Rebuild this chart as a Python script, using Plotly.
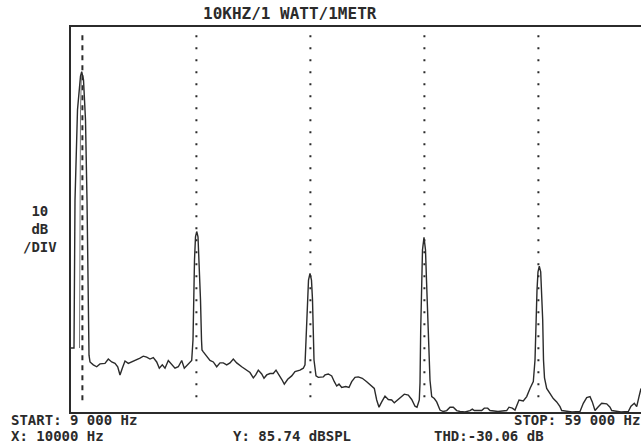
import plotly.graph_objects as go

# spectrum trace (Hz, dB SPL)
freq_hz = [
    9000, 9263, 9351, 9570, 9833, 9939, 10097, 10272, 10404, 10535, 10579, 10667,
    10956, 11254, 11544, 11982, 12272, 12570, 12860, 13097, 13298, 13500, 13737, 14026,
    14325, 14614, 15053, 15342, 15640, 15930, 16219, 16518, 16746, 17009, 17246, 17535,
    17833, 18123, 18412, 18711, 18939, 19237, 19439, 19588,
    19702, 19746, 19833, 19921, 20026, 20140, 20228, 20360, 20447, 20491,
    20605, 20904, 21193, 21482, 21781, 22070, 22360, 22658, 22947, 23237, 23535, 23974,
    24412, 24702, 24991, 25202, 25430, 25728, 25930, 26167, 26456, 26746, 26983, 27184,
    27482, 27711, 28009, 28360, 28649, 29088, 29378, 29526,
    29640, 29746, 29833, 29965, 30096, 30184, 30254, 30316, 30491,
    30693, 31132, 31281, 31570, 31868, 32097, 32307, 32509, 32746, 33097, 33386, 33623,
    33912, 34202, 34553, 34939, 35316, 35605, 35816, 36018, 36255, 36544, 36833, 37132,
    37360, 37658, 37947, 38237, 38588, 38886, 39175, 39351, 39553,
    39614, 39675, 39746, 39833, 39965, 40096, 40184, 40316, 40491,
    40640, 40868, 41079, 41368, 41658, 41956, 42246, 42535, 42833, 43123, 43561, 44000,
    44202, 44377, 45026, 45254, 45553, 45754, 46456, 47219, 47421, 47711, 47947, 48096,
    48298, 48675, 48974, 49263, 49553,
    49702, 49789, 49877, 49965, 50079, 50202, 50289, 50377, 50447, 50535,
    50728, 51018, 51307, 51605, 51895, 52044, 52947, 53649, 53939, 54237, 54526, 54728,
    54965, 55254, 55553, 55991, 56281, 56430, 57244, 57886, 58123, 58412, 58623, 58825,
    59000,
]
level_db = [
    28.3, 28.3, 59.0, 77.8, 84.8, 85.7, 84.0, 75.7, 59.0, 38.3, 26.8, 25.4,
    24.8, 24.4, 25.0, 25.1, 26.0, 25.4, 25.1, 24.4, 22.7, 24.1, 25.6, 25.1,
    25.4, 25.8, 26.2, 26.6, 26.4, 26.0, 26.3, 25.4, 24.1, 24.8, 24.1, 25.7,
    24.8, 24.1, 24.4, 25.7, 24.1, 24.8, 25.4, 25.7,
    30.0, 38.3, 46.6, 51.4, 52.5, 51.4, 46.6, 38.3, 30.0, 27.9,
    27.5, 26.5, 25.7, 25.4, 24.4, 25.2, 25.2, 24.8, 25.2, 26.0, 25.2, 24.4,
    23.6, 23.2, 22.1, 22.7, 23.7, 22.9, 22.0, 22.7, 23.0, 23.0, 23.7, 23.0,
    21.8, 20.8, 21.8, 22.5, 23.4, 23.7, 24.1, 24.8,
    32.0, 38.3, 42.4, 43.8, 42.4, 38.3, 32.0, 25.8, 22.5,
    22.2, 22.3, 22.7, 22.9, 22.5, 21.3, 20.4, 20.8, 20.1, 20.3, 20.1, 21.3,
    22.2, 22.3, 22.0, 21.3, 20.6, 19.9, 17.5, 16.0, 17.1, 18.3, 17.6, 17.5,
    16.9, 17.5, 18.2, 18.7, 18.5, 17.6, 16.2, 16.0, 17.5,
    21.0, 32.0, 42.4, 48.7, 51.3, 48.7, 42.4, 32.0, 21.6,
    18.2, 17.8, 17.1, 15.4, 15.1, 15.3, 16.0, 16.0, 15.3, 15.1, 15.0, 15.3,
    15.6, 15.3, 15.3, 15.8, 15.8, 15.3, 15.1, 15.3, 16.0, 15.8, 15.4, 16.4,
    17.5, 17.3, 18.2, 19.9, 21.3,
    25.8, 34.1, 40.3, 44.1, 45.3, 44.1, 40.3, 34.1, 25.8, 22.1,
    19.9, 18.9, 17.8, 17.1, 16.1, 15.3, 15.0, 15.1, 16.8, 18.0, 18.2, 17.1,
    15.3, 16.1, 16.8, 16.7, 16.0, 15.3, 15.0, 15.1, 16.2, 16.8, 16.1, 18.2,
    19.9,
]

# second outline on the left flank of the fundamental
echo_hz = [9746, 9772, 9833, 9904]
echo_db = [28.3, 59.0, 77.8, 84.4]

harmonics_hz = [10000, 20000, 30000, 40000, 50000]
marker_db = [93.3, 16.4]

start_hz = 9000
stop_hz = 59000
db_top = 95
db_bottom = 15

ink = "#2b2b2b"
font = "DejaVu Sans Mono"

fig = go.Figure()

for i, h in enumerate(harmonics_hz):
    fig.add_trace(go.Scatter(
        x=[h, h], y=marker_db, mode="lines",
        line=dict(color=ink, width=2, dash="5px,5px" if i == 0 else "2px,10px"),
        hoverinfo="skip"))

fig.add_trace(go.Scatter(x=echo_hz, y=echo_db, mode="lines",
                         line=dict(color="#777777", width=1)))
fig.add_trace(go.Scatter(x=freq_hz, y=level_db, mode="lines",
                         line=dict(color=ink, width=1.4)))

fig.update_xaxes(range=[start_hz, stop_hz], showgrid=False, zeroline=False,
                 showticklabels=False, ticks="", showline=True, mirror=True,
                 linecolor=ink, linewidth=1.5)
fig.update_yaxes(range=[db_bottom, db_top], showgrid=False, zeroline=False,
                 showticklabels=False, ticks="", showline=True, mirror=False,
                 linecolor=ink, linewidth=1.5)

def note(text, x, y, xanchor="left", size=14):
    fig.add_annotation(text="<b>" + text + "</b>", x=x, y=y, xref="paper", yref="paper",
                       xanchor=xanchor, yanchor="middle", showarrow=False, borderpad=0,
                       font=dict(family=font, size=size, color=ink))

note("10KHZ/1 WATT/1METR", 0.384, 1.034, "center", 16)
note("10<br>dB<br>/DIV", -0.054, 0.475, "center")
note("START: 9 000 Hz", -0.107, -0.022)
note("STOP: 59 000 Hz", 1.0, -0.022, "right")
note("X: 10000 Hz", -0.107, -0.062)
note("Y: 85.74 dBSPL", 0.2825, -0.062)
note("THD:-30.06 dB", 0.635, -0.062)

fig.update_layout(width=642, height=445, showlegend=False,
                  margin=dict(l=71, r=1, t=27, b=33),
                  paper_bgcolor="white", plot_bgcolor="white")

# page body margin would shift the figure off the window
fig.write_html("out.html", config={"displayModeBar": False},
               post_script="document.body.style.margin='0';")
